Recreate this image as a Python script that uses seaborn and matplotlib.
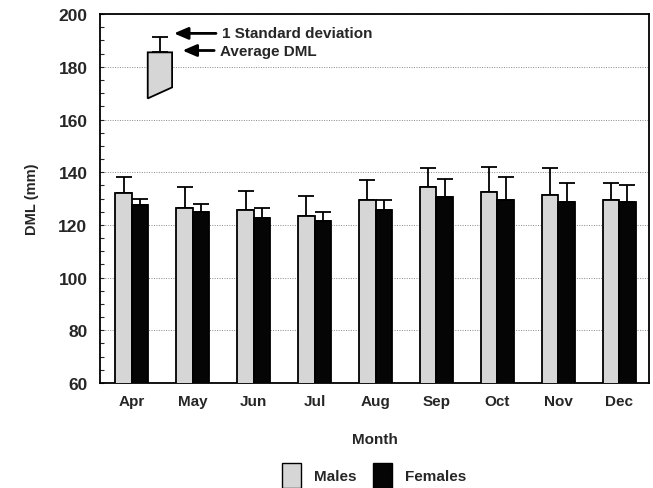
import numpy as np
import pandas as pd
import seaborn as sns
import matplotlib
matplotlib.use("Agg")
import matplotlib.pyplot as plt
from matplotlib.patches import Polygon, Patch
from matplotlib.ticker import MultipleLocator

months = ["Apr", "May", "Jun", "Jul", "Aug", "Sep", "Oct", "Nov", "Dec"]
males_mean = [132, 126.5, 125.5, 123.5, 129.5, 134.5, 132.5, 131.5, 129.5]
males_sd = [6, 8, 7.5, 7.5, 7.5, 7, 9.5, 10, 6.5]
females_mean = [127.5, 125, 122.5, 121.5, 125.5, 130.5, 129.5, 128.5, 128.5]
females_sd = [2.5, 3, 4, 3.5, 4, 7, 8.5, 7.5, 6.5]
sex_labels = ["Males", "Females"]
key_mean = 185.5
key_sd = 6

sns.set_style("ticks")
plt.rcParams["font.family"] = ["Liberation Sans", "DejaVu Sans"]

df = pd.DataFrame({
    "Month": months * 2,
    "DML": males_mean + females_mean,
    "SD": males_sd + females_sd,
    "Sex": [sex_labels[0]] * len(months) + [sex_labels[1]] * len(months),
})

colors = {"Males": "#d6d6d6", "Females": "#050505"}

fig = plt.figure(figsize=(6.53, 4.89), dpi=100)
ax = fig.add_axes([0.153, 0.215, 0.841, 0.754])

sns.barplot(data=df, x="Month", y="DML", hue="Sex", palette=colors,
            width=0.54, gap=0, edgecolor="black", linewidth=1.3,
            errorbar=None, ax=ax, legend=False, zorder=3)

for cont, sds, means in zip(ax.containers, [males_sd, females_sd],
                            [males_mean, females_mean]):
    xs = [p.get_x() + p.get_width() / 2 for p in cont.patches]
    ax.errorbar(xs, means, yerr=[np.zeros(len(sds)), sds], fmt="none",
                ecolor="black", elinewidth=1.3, capsize=6, capthick=1.3,
                zorder=2)

ax.set_ylim(60, 200)
ax.set_xlim(-0.525, 8.49)
ax.yaxis.set_major_locator(MultipleLocator(20))
ax.yaxis.set_minor_locator(MultipleLocator(5))
ax.tick_params(axis="y", which="both", direction="in", length=3,
               labelsize=12.5, width=0.8, pad=9)
ax.tick_params(axis="x", length=0, labelsize=11, pad=8)
for lab in ax.get_yticklabels():
    lab.set_fontweight("bold")
for lab in ax.get_xticklabels():
    lab.set_fontweight("bold")
ax.grid(axis="y", which="major", linestyle=(0, (1, 1.5)), color="#888888",
        linewidth=0.7, zorder=0)
ax.set_axisbelow(True)
for s in ax.spines.values():
    s.set_visible(True)
    s.set_linewidth(1.3)
    s.set_color("black")

ax.set_xlabel("Month", fontsize=11, fontweight="bold", labelpad=17)
ax.set_ylabel("DML (mm)", fontsize=10.5, fontweight="bold", labelpad=14)

# Inset key
kx0, kx1 = 0.26, 0.66
poly = Polygon([[kx0, key_mean], [kx1, key_mean], [kx1, key_mean - 13.3],
                [kx0, key_mean - 17.5]], closed=True, facecolor=colors["Males"],
               edgecolor="black", linewidth=1.3, zorder=3)
ax.add_patch(poly)
kc = (kx0 + kx1) / 2
ax.errorbar([kc], [key_mean], yerr=[[0], [key_sd]], fmt="none", ecolor="black",
            elinewidth=1.3, capsize=6, capthick=1.3, zorder=2)
arrow = dict(arrowstyle="-|>,head_length=0.7,head_width=0.3", color="black",
             lw=2.0, mutation_scale=12, shrinkA=2, shrinkB=0)
ax.annotate("1 Standard deviation", xy=(0.69, 192.7), xytext=(1.48, 192.7),
            fontsize=11, fontweight="bold", va="center", arrowprops=arrow)
ax.annotate("Average DML", xy=(0.83, 186.2), xytext=(1.45, 186.2),
            fontsize=11, fontweight="bold", va="center", arrowprops=arrow)

handles = [Patch(facecolor=colors[s], edgecolor="black", linewidth=1.0)
           for s in sex_labels]
fig.legend(handles, sex_labels, loc="center", bbox_to_anchor=(0.573, 0.026),
           ncol=2, frameon=False, handlelength=1.25, handleheight=2.1,
           handletextpad=0.85, columnspacing=1.1, borderpad=0,
           prop={"size": 11, "weight": "bold"})

fig.savefig("out.png", dpi=100)
